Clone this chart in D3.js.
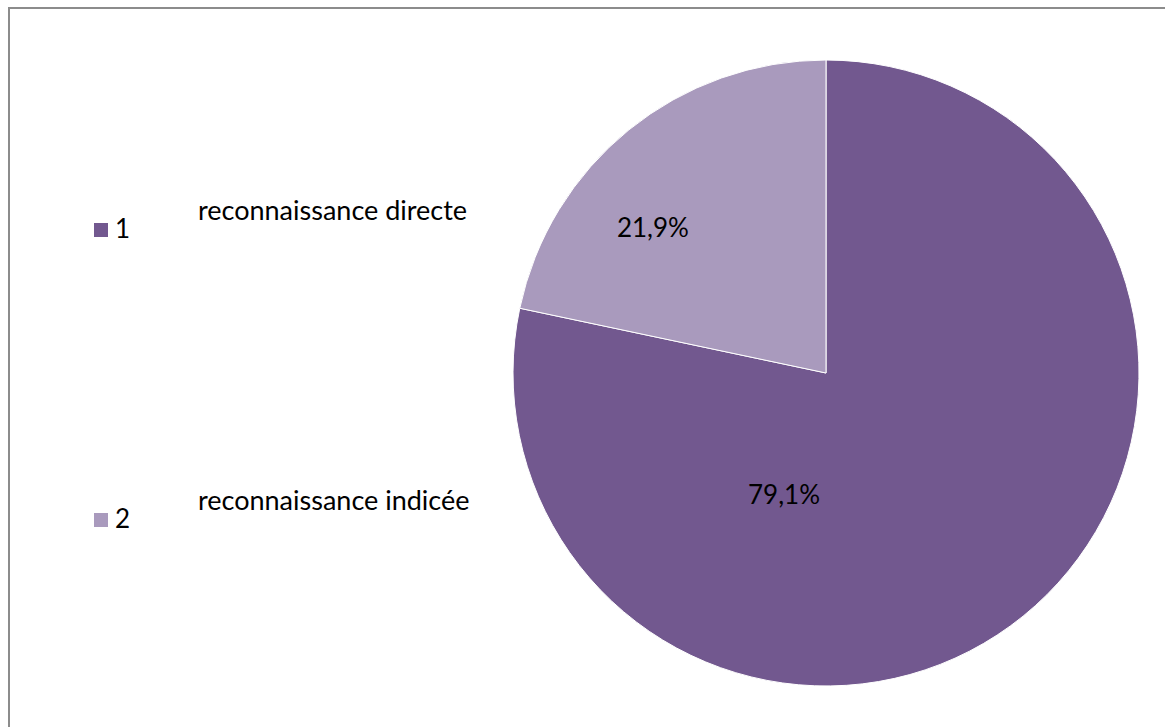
<!DOCTYPE html>
<html><head><meta charset="utf-8">
<script src="https://cdn.jsdelivr.net/npm/d3@7"></script>
<style>html,body{margin:0;padding:0;background:#fff;}svg{display:block;}</style>
</head><body>
<svg id="chart" width="1165" height="727"></svg>
<script>
const categories = ["1", "2"];
const categoryNames = ["reconnaissance directe", "reconnaissance indicée"];
const values = [79.1, 21.9];
const labels = ["79,1%", "21,9%"];
const colors = ["#72588F", "#A99ABD"];

const svg = d3.select("#chart");
const W = 1165, H = 727;
const font = "Lato, sans-serif";

// frame
svg.append("rect").attr("x", 9).attr("y", 8).attr("width", W + 10).attr("height", H + 10)
  .attr("fill", "#fff").attr("stroke", "#8c8c8c").attr("stroke-width", 2);

const cx = 826, cy = 373, R = 313;
const pie = d3.pie().sort(null).value(d => d)(values);
const arc = d3.arc().innerRadius(0).outerRadius(R);
const g = svg.append("g").attr("transform", `translate(${cx},${cy})`);
g.selectAll("path").data(pie).join("path")
  .attr("d", arc).attr("fill", (d, i) => colors[i])
  .attr("stroke", "#fff").attr("stroke-width", 1);

// label placement (angle in degrees clockwise from top, radius)
const labelPlace = [{a: 199, r: 129}, {a: 310, r: 226}];
g.selectAll("text.lab").data(pie).join("text").attr("class", "lab")
  .attr("x", (d, i) => labelPlace[i].r * Math.sin(labelPlace[i].a * Math.PI / 180))
  .attr("y", (d, i) => -labelPlace[i].r * Math.cos(labelPlace[i].a * Math.PI / 180))
  .attr("text-anchor", "middle").attr("dy", "0.35em")
  .attr("font-family", font).attr("font-size", 26).attr("fill", "#000")
  .text((d, i) => labels[i]);

// legend
const ly = d3.scalePoint().domain(categories).range([230, 520]);
const leg = svg.selectAll("g.leg").data(categories).join("g").attr("class", "leg")
  .attr("transform", d => `translate(0,${ly(d)})`);
leg.append("rect").attr("x", 94).attr("y", -7).attr("width", 14).attr("height", 14)
  .attr("fill", (d, i) => colors[i]);
leg.append("text").attr("x", 115).attr("y", 8)
  .attr("font-family", font).attr("font-size", 26).attr("fill", "#000").text(d => d);
leg.append("text").attr("x", 198).attr("y", -10)
  .attr("font-family", font).attr("font-size", 27).attr("fill", "#000")
  .text((d, i) => categoryNames[i]);
</script>
</body></html>
